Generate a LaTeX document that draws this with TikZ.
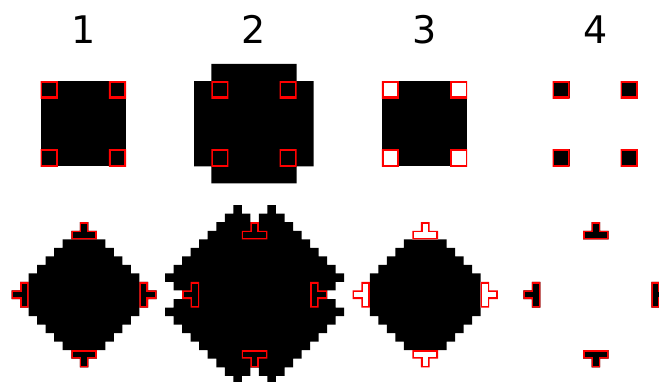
\documentclass[tikz,border=0pt]{standalone}
\usepackage{fontspec}
\setmainfont{DejaVu Sans}
\newcommand\inoutline[2]{\fill[#1] #2; \begin{scope}\clip #2; \draw[redline] #2; \end{scope}}
\def\diamondpath{(4,0) -- (9,0) -- (9,1) -- (10,1) -- (10,2) -- (11,2) -- (11,3) -- (12,3) -- (12,4) -- (13,4) -- (13,9) -- (12,9) -- (12,10) -- (11,10) -- (11,11) -- (10,11) -- (10,12) -- (9,12) -- (9,13) -- (4,13) -- (4,12) -- (3,12) -- (3,11) -- (2,11) -- (2,10) -- (1,10) -- (1,9) -- (0,9) -- (0,4) -- (1,4) -- (1,3) -- (2,3) -- (2,2) -- (3,2) -- (3,1) -- (4,1) -- cycle}
\def\teetop{(5,0) -- (8,0) -- (8,-1) -- (7,-1) -- (7,-2) -- (6,-2) -- (6,-1) -- (5,-1) -- cycle}
\def\teebot{(5,13) -- (8,13) -- (8,14) -- (7,14) -- (7,15) -- (6,15) -- (6,14) -- (5,14) -- cycle}
\def\teeleft{(0,5) -- (0,8) -- (-1,8) -- (-1,7) -- (-2,7) -- (-2,6) -- (-1,6) -- (-1,5) -- cycle}
\def\teeright{(13,5) -- (13,8) -- (14,8) -- (14,7) -- (15,7) -- (15,6) -- (14,6) -- (14,5) -- cycle}
\begin{document}
\begin{tikzpicture}[
  digit/.style={anchor=base, font=\fontsize{38}{40}\selectfont, inner sep=0pt},
  redline/.style={draw=red, line width=3.2pt},
  gridcell/.style={x=8.53pt, y=-8.53pt}]
\useasboundingbox (0,0) rectangle (659pt,-381pt);
\clip (0,0) rectangle (659pt,-381pt);
\fill[white] (0,0) rectangle (659pt,-381pt);

% numbers
\node[digit] (n1) at (83.35pt,-43.3pt) {1};
\node[digit] (n2) at (253.95pt,-43.3pt) {2};
\node[digit] (n3) at (424.55pt,-43.3pt) {3};
\node[digit] (n4) at (595.15pt,-43.3pt) {4};

% ---------- top row ----------
\begin{scope}[shift={(40.7pt,-81pt)}, gridcell]
  \fill[black] (0,0) rectangle (10,10);
  \foreach \a/\b in {0/0,8/0,0/8,8/8} {\inoutline{black}{(\a,\b) rectangle ++(2,2)}}
\end{scope}
\begin{scope}[shift={(211.3pt,-81pt)}, gridcell]
  \fill[black] (0,-2) rectangle (10,12) (-2,0) rectangle (12,10);
  \foreach \a/\b in {0/0,8/0,0/8,8/8} {\inoutline{black}{(\a,\b) rectangle ++(2,2)}}
\end{scope}
\begin{scope}[shift={(381.9pt,-81pt)}, gridcell]
  \fill[black] (0,0) rectangle (10,10);
  \foreach \a/\b in {0/0,8/0,0/8,8/8} {\inoutline{white}{(\a,\b) rectangle ++(2,2)}}
\end{scope}
\begin{scope}[shift={(552.5pt,-81pt)}, gridcell]
  \foreach \a/\b in {0/0,8/0,0/8,8/8} {\inoutline{black}{(\a,\b) rectangle ++(2,2)}}
\end{scope}

% ---------- bottom row ----------
\begin{scope}[shift={(28.6pt,-239.3pt)}, gridcell]
  \fill[black] \diamondpath;
  \inoutline{black}{\teetop}
  \inoutline{black}{\teebot}
  \inoutline{black}{\teeleft}
  \inoutline{black}{\teeright}
\end{scope}
\begin{scope}[shift={(199.2pt,-239.3pt)}, gridcell]
  \fill[black] \foreach \r/\a/\b in {-4/4/5,-4/8/9,-3/3/6,-3/7/10,-2/2/11,-1/1/12,0/0/13,1/-1/14,2/-2/15,3/-3/16,4/-4/17,5/-3/16,6/-2/15,7/-3/16,8/-4/17,9/-3/16,10/-2/15,11/-1/14,12/0/13,13/1/12,14/2/11,15/3/6,15/7/10,16/4/5,16/8/9} {(\a,\r) rectangle (\b,\r+1)};
  \inoutline{black}{\teetop}
  \inoutline{black}{\teebot}
  \inoutline{black}{\teeleft}
  \inoutline{black}{\teeright}
\end{scope}
\begin{scope}[shift={(369.8pt,-239.3pt)}, gridcell]
  \fill[black] \diamondpath;
  \inoutline{white}{\teetop}
  \inoutline{white}{\teebot}
  \inoutline{white}{\teeleft}
  \inoutline{white}{\teeright}
\end{scope}
\begin{scope}[shift={(540.4pt,-239.3pt)}, gridcell]
  \inoutline{black}{\teetop}
  \inoutline{black}{\teebot}
  \inoutline{black}{\teeleft}
  \inoutline{black}{\teeright}
\end{scope}
\end{tikzpicture}
\end{document}
